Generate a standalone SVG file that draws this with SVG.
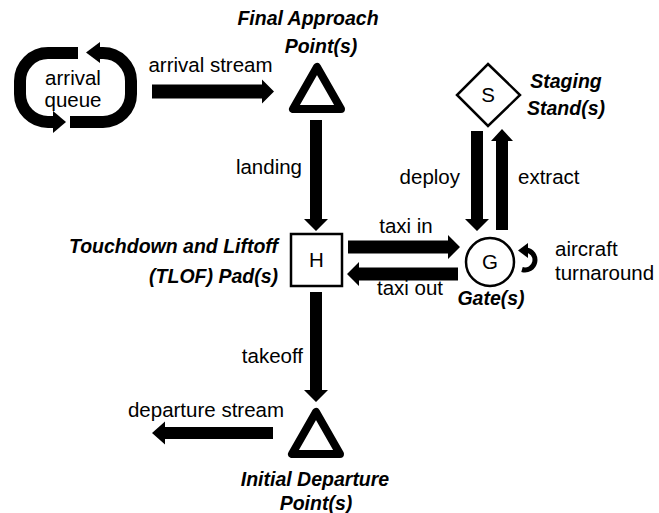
<svg xmlns="http://www.w3.org/2000/svg" width="659" height="513" viewBox="0 0 659 513">
<style>
text{font-family:"Liberation Sans",Arial,sans-serif;fill:#000}
.lbl{font-size:20.5px}
.ttl{font-size:19.5px;font-weight:bold;font-style:italic}
.node{fill:#fff;stroke:#000;stroke-width:2.5}
.tri{fill:#fff;stroke:#000;stroke-width:8;stroke-linejoin:round}
.arr{fill:#000;stroke:none}
.loop{fill:none;stroke:#000;stroke-width:12}
</style>
<rect width="659" height="513" fill="#fff"/>
<g id="arrival-queue">
  <path class="loop" d="M78,53 H48 A28,28 0 0 0 20,81 V94 A28,28 0 0 0 48,122 H54"/>
  <polygon class="arr" points="53,111 66,122 53,133"/>
  <path class="loop" d="M70,122 H103 A28,28 0 0 0 131,94 V81 A28,28 0 0 0 103,53 H99"/>
  <polygon class="arr" points="100,42 86,52.5 100,63"/>
  <text class="lbl" x="73" y="85" text-anchor="middle">arrival</text>
  <text class="lbl" x="73" y="107" text-anchor="middle">queue</text>
</g>
<g id="final-approach">
  <polygon class="tri" points="317,67 293,109 341,109"/>
  <text class="ttl" x="308" y="25" text-anchor="middle">Final Approach</text>
  <text class="ttl" x="321" y="53" text-anchor="middle">Point(s)</text>
</g>
<g id="tlof">
  <rect class="node" x="291" y="234" width="51" height="52"/>
  <text class="lbl" x="316.5" y="267" text-anchor="middle">H</text>
  <text class="ttl" x="278" y="253" text-anchor="end">Touchdown and Liftoff</text>
  <text class="ttl" x="278" y="283" text-anchor="end">(TLOF) Pad(s)</text>
</g>
<g id="gate">
  <circle class="node" cx="490" cy="262" r="24"/>
  <text class="lbl" x="490" y="269" text-anchor="middle">G</text>
  <text class="ttl" x="491" y="305" text-anchor="middle">Gate(s)</text>
</g>
<g id="staging">
  <polygon class="node" points="488,64 520,95 488,126 457,95"/>
  <text class="lbl" x="488" y="102" text-anchor="middle">S</text>
  <text class="ttl" x="566" y="88" text-anchor="middle">Staging</text>
  <text class="ttl" x="566" y="115" text-anchor="middle">Stand(s)</text>
</g>
<g id="initial-departure">
  <polygon class="tri" points="316,412 292,454 340,454"/>
  <text class="ttl" x="315" y="486" text-anchor="middle">Initial Departure</text>
  <text class="ttl" x="316" y="510" text-anchor="middle">Point(s)</text>
</g>
<g id="connectors">
  <polygon class="arr" points="152,84.5 262,84.5 262,79.5 274,91.5 262,103.5 262,98.5 152,98.5"/>
  <text class="lbl" x="210.5" y="72" text-anchor="middle">arrival stream</text>
  <polygon class="arr" points="310,120 322,120 322,219 328,219 316,231 304,219 310,219"/>
  <text class="lbl" x="302" y="174" text-anchor="end">landing</text>
  <polygon class="arr" points="348,240.5 448,240.5 448,235 460,247 448,259 448,253.5 348,253.5"/>
  <text class="lbl" x="406" y="233" text-anchor="middle">taxi in</text>
  <polygon class="arr" points="458,267.5 359,267.5 359,262 347,274 359,286 359,280.5 458,280.5"/>
  <text class="lbl" x="410" y="295" text-anchor="middle">taxi out</text>
  <polygon class="arr" points="471,131 483,131 483,219 489,219 477,231 465,219 471,219"/>
  <text class="lbl" x="460" y="184" text-anchor="end">deploy</text>
  <polygon class="arr" points="496,230 508,230 508,141 513,141 502,129 491,141 496,141"/>
  <text class="lbl" x="518" y="184">extract</text>
  <path d="M522,269.5 A10,10 0 1 0 526,250" fill="none" stroke="#000" stroke-width="5"/>
  <polygon class="arr" points="528,243 518,250.5 528,258"/>
  <text class="lbl" x="555" y="256">aircraft</text>
  <text class="lbl" x="555" y="280">turnaround</text>
  <polygon class="arr" points="310,292 322,292 322,390 328,390 316,402 304,390 310,390"/>
  <text class="lbl" x="303" y="363" text-anchor="end">takeoff</text>
  <polygon class="arr" points="273,427 165,427 165,421.5 152,433 165,444.5 165,439 273,439"/>
  <text class="lbl" x="206" y="417" text-anchor="middle">departure stream</text>
</g>
</svg>
